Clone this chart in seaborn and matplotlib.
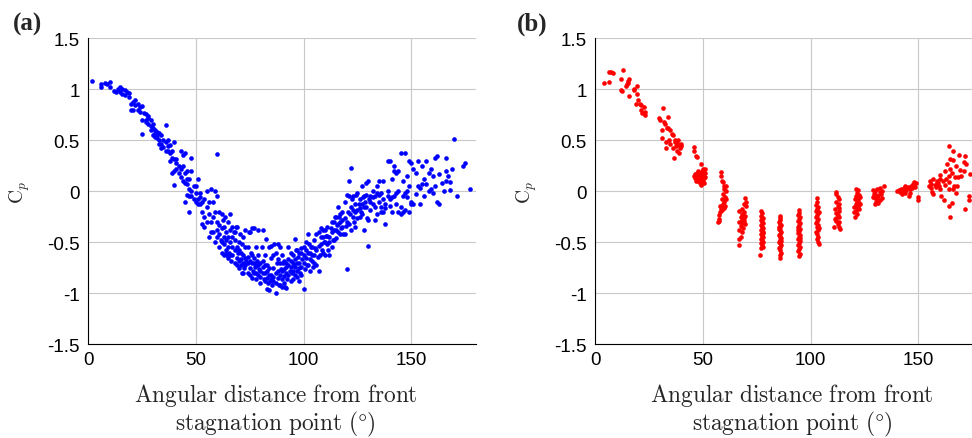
import numpy as np
import pandas as pd
import matplotlib
matplotlib.use("Agg")
import matplotlib.pyplot as plt
import seaborn as sns

# ---------------- data: panel (a) (angle in degrees, Cp) ----------------
a_0_25 = [(2,1.08),(6,1.05),(6,1.02),(8,1.06),(9,1.05),(10,1.07),(10,1.02),(12,0.98),(13,0.97),(14,1.0),
          (15,1.02),(15,0.97),(16,1.0),(16,0.95),(17,0.94),(17,0.99),(18,0.97),(19,0.92),(19,0.96),(20,0.86),
          (20,0.8),(21,0.8),(21,0.88),(22,0.9),(22,0.85),(23,0.8),(23,0.86),(24,0.83),(24,0.78),(25,0.84),
          (25,0.7),(25,0.56)]
a_26_40 = [(26,0.77),(27,0.76),(27,0.7),(27,0.68),(28,0.72),(28,0.66),(28,0.74),(29,0.7),(29,0.64),(29,0.6),
           (30,0.62),(30,0.55),(30,0.66),(31,0.6),(31,0.53),(31,0.57),(32,0.58),(32,0.52),(32,0.55),(33,0.57),
           (33,0.5),(33,0.46),(34,0.55),(34,0.46),(34,0.42),(35,0.43),(35,0.5),(36,0.48),(36,0.4),(36,0.65),
           (37,0.44),(37,0.4),(37,0.5),(38,0.38),(38,0.3),(38,0.45),(39,0.33),(39,0.18),(39,0.4),(40,0.2),
           (40,0.06),(40,0.48),(40,0.32)]
a_41_50 = [(41,0.32),(41,0.22),(41,0.28),(42,0.25),(42,0.18),(43,0.4),(43,0.14),(43,0.22),(44,0.36),(44,0.25),
           (44,0.1),(45,0.38),(45,0.18),(45,-0.1),(45,0.08),(46,0.07),(46,0.2),(46,-0.04),(46,0.12),(47,0.02),
           (47,0.12),(47,-0.2),(47,-0.05),(48,0.33),(48,0.2),(48,-0.05),(48,0.0),(49,0.05),(49,-0.08),(50,-0.02),
           (50,-0.1),(50,0.05)]
a_51_60 = [(51,0.12),(51,-0.08),(51,-0.12),(52,-0.12),(52,-0.02),(52,-0.06),(53,-0.2),(53,-0.32),(53,-0.1),
           (54,-0.25),(54,-0.08),(54,-0.35),(55,0.0),(55,-0.15),(55,-0.3),(56,-0.1),(56,-0.45),(56,-0.22),
           (57,-0.3),(57,0.02),(57,-0.4),(58,-0.4),(58,-0.1),(58,-0.25),(59,0.0),(59,-0.2),(59,-0.5),(60,-0.05),
           (60,-0.3),(60,-0.45),(60,0.37),(60,-0.38)]
a_61_70 = [(61,-0.55),(61,-0.42),(61,-0.2),(61,-0.33),(61.5,-0.48),(62,-0.22),(62,-0.5),(62,-0.36),(62,-0.6),
           (62.5,-0.28),(63,-0.62),(63,-0.35),(63,-0.45),(63,-0.52),(63.5,-0.25),(64,-0.6),(64,-0.48),(64,-0.4),
           (64,-0.58),(64.5,-0.62),(65,-0.65),(65,-0.55),(65,-0.3),(65,-0.45),(65.5,-0.6),(66,-0.38),(66,-0.22),
           (66,-0.62),(66,-0.5),(66.5,-0.68),(67,-0.62),(67,-0.45),(67,-0.35),(67,-0.55),(67.5,-0.4),(68,-0.4),
           (68,-0.7),(68,-0.58),(68,-0.48),(68.5,-0.35),(69,-0.55),(69,-0.35),(69,-0.65),(69,-0.72),(69.5,-0.6),
           (70,-0.68),(70,-0.5),(70,-0.58),(70,-0.75),(70.5,-0.42)]
a_71_80 = [(71,-0.72),(71,-0.6),(71,-0.66),(71.5,-0.8),(71.5,-0.52),(72,-0.45),(72,-0.8),(72,-0.7),(72,-0.62),
           (72.5,-0.75),(73,-0.38),(73,-0.65),(73,-0.72),(73,-0.55),(73.5,-0.68),(74,-0.7),(74,-0.55),(74,-0.8),
           (74,-0.64),(74.5,-0.4),(75,-0.75),(75,-0.4),(75,-0.68),(75,-0.82),(75.5,-0.6),(76,-0.62),(76,-0.85),
           (76,-0.7),(76,-0.36),(76.5,-0.78),(77,-0.7),(77,-0.36),(77,-0.8),(77,-0.65),(77.5,-0.74),(78,-0.8),
           (78,-0.55),(78,-0.72),(78,-0.86),(78.5,-0.68),(79,-0.72),(79,-0.62),(79,-0.38),(79,-0.82),(79.5,-0.76),
           (80,-0.78),(80,-0.9),(80,-0.7),(80,-0.84),(80.5,-0.55)]
a_81_90 = [(81,-0.38),(81,-0.68),(81,-0.8),(81,-0.74),(81.5,-0.86),(82,-0.8),(82,-0.62),(82,-0.88),(82,-0.72),
           (82.5,-0.47),(83,-0.85),(83,-0.72),(83,-0.96),(83,-0.78),(83.5,-0.9),(84,-0.97),(84,-0.55),(84,-0.82),
           (84,-0.75),(84.5,-0.88),(85,-0.82),(85,-0.65),(85,-0.86),(85,-0.54),(85.5,-0.92),(86,-0.88),(86,-0.75),
           (86,-0.62),(86,-0.84),(86.5,-0.52),(87,-1.0),(87,-0.6),(87,-0.8),(87,-0.9),(87.5,-0.7),(88,-0.85),
           (88,-0.52),(88,-0.78),(88,-0.66),(88.5,-0.92),(89,-0.7),(89,-0.92),(89,-0.82),(89,-0.55),(89.5,-0.76),
           (90,-0.78),(90,-0.62),(90,-0.86),(90,-0.94),(90.5,-0.7)]
a_91_100 = [(91,-0.9),(91,-0.68),(91,-0.76),(91,-0.83),(91.5,-0.94),(92,-0.95),(92,-0.8),(92,-0.7),(92,-0.74),
            (92.5,-0.86),(93,-0.72),(93,-0.55),(93,-0.82),(93,-0.66),(93.5,-0.78),(94,-0.88),(94,-0.68),(94,-0.6),
            (94,-0.74),(94.5,-0.8),(95,-0.78),(95,-0.62),(95,-0.7),(95,-0.86),(95.5,-0.72),(96,-0.47),(96,-0.82),
            (96,-0.74),(96,-0.66),(96.5,-0.58),(97,-0.7),(97,-0.58),(97,-0.78),(97,-0.84),(97.5,-0.64),(98,-0.88),
            (98,-0.75),(98,-0.6),(98,-0.7),(98.5,-0.8),(99,-0.6),(99,-0.82),(99,-0.56),(99,-0.74),(99.5,-0.66),
            (100,-0.96),(100,-0.55),(100,-0.7),(100,-0.62),(100.5,-0.76)]
a_101_110 = [(101,-0.65),(101,-0.5),(101,-0.58),(101.5,-0.72),(102,-0.72),(102,-0.42),(102,-0.6),(102.5,-0.52),
             (103,-0.6),(103,-0.78),(103,-0.66),(103.5,-0.55),(104,-0.55),(104,-0.68),(104,-0.62),(104.5,-0.74),
             (105,-0.62),(105,-0.48),(105,-0.7),(105.5,-0.56),(106,-0.58),(106,-0.72),(106,-0.42),(106.5,-0.64),
             (107,-0.4),(107,-0.78),(107,-0.54),(107.5,-0.62),(108,-0.52),(108,-0.36),(108,-0.45),(108.5,-0.58),
             (109,-0.45),(109,-0.6),(109,-0.38),(109.5,-0.5),(110,-0.38),(110,-0.5),(110,-0.62),(110.5,-0.44)]
a_111_120 = [(111,-0.52),(111,-0.35),(111,-0.44),(111.5,-0.58),(112,-0.62),(112,-0.45),(112,-0.5),(112.5,-0.36),
             (113,-0.4),(113,-0.55),(113,-0.3),(113.5,-0.48),(114,-0.3),(114,-0.48),(114,-0.38),(114.5,-0.25),
             (115,-0.25),(115,-0.38),(115,-0.46),(115.5,-0.33),(116,-0.15),(116,-0.32),(116,-0.4),(116.5,-0.25),
             (117,-0.42),(117,-0.22),(117,-0.3),(117.5,-0.36),(118,-0.35),(118,-0.2),(118,-0.28),(118.5,-0.42),
             (119,-0.42),(119,-0.1),(119,-0.26),(119.5,-0.34),(120,-0.76),(120,-0.3),(120,-0.04),(120.5,-0.2)]
a_121_130 = [(121,-0.05),(121,0.1),(121,-0.32),(121.5,-0.22),(122,0.23),(122,-0.15),(122,-0.38),(122.5,-0.08),
             (123,-0.25),(123,-0.05),(123,-0.18),(123.5,-0.3),(124,-0.35),(124,-0.12),(124,-0.2),(124.5,-0.04),
             (125,-0.18),(125,-0.02),(125,-0.26),(125.5,-0.12),(126,-0.25),(126,-0.08),(126,-0.16),(126.5,-0.2),
             (127,-0.12),(127,0.05),(127,-0.22),(127.5,-0.06),(128,-0.38),(128,-0.05),(128,-0.15),(128.5,-0.1),
             (129,0.08),(129,-0.15),(129,-0.04),(129.5,-0.26),(130,0.1),(130,-0.28),(130,-0.54),(130.5,-0.08)]
a_131_140 = [(131,-0.05),(131,-0.18),(131,-0.1),(132,0.0),(132,-0.12),(132,-0.06),(133,-0.28),(133,-0.05),
             (133,-0.15),(134,0.05),(134,-0.22),(134,-0.02),(135,-0.1),(135,0.1),(135,-0.04),(136,-0.15),
             (136,-0.02),(136,-0.2),(137,0.1),(137,-0.2),(137,-0.08),(138,-0.32),(138,-0.12),(138,-0.16),
             (139,0.3),(139,0.0),(139,-0.05),(140,-0.08),(140,0.3),(140,-0.14)]
a_141_150 = [(141,-0.2),(141,0.12),(141,-0.06),(142,0.25),(142,-0.05),(142,0.2),(143,-0.12),(143,0.18),
             (143,-0.02),(144,0.2),(144,-0.2),(144,0.0),(145,0.38),(145,-0.22),(145,-0.15),(146,-0.05),(146,0.1),
             (146,-0.2),(147,0.38),(147,-0.18),(147,-0.02),(148,0.0),(148,0.15),(148,-0.06),(149,-0.2),(149,0.3),
             (149,0.05),(150,0.28),(150,-0.1),(150,-0.12)]
a_151_177 = [(151,0.22),(151,-0.12),(152,0.18),(152,-0.03),(153,0.3),(153,0.05),(154,-0.12),(154,0.03),(155,0.25),
             (155,0.07),(156,-0.05),(156,0.12),(157,0.07),(157,0.3),(158,0.18),(158,0.0),(159,0.22),(159,0.02),
             (160,0.15),(160,-0.02),(161,0.33),(161,0.05),(162,-0.1),(162,0.35),(163,0.17),(163,-0.12),(164,0.08),
             (165,0.0),(166,0.2),(166,0.1),(166,0.33),(167,0.15),(168,0.09),(168,0.01),(169,0.22),(170,0.51),
             (171,-0.05),(174,0.25),(175,0.28),(177,0.02)]

# ---------------- data: panel (b) ----------------
b_0_25 = [(4,1.06),(6.5,1.07),(6.5,1.17),(7.5,1.17),(8.5,1.16),(12,1.1),(12,0.99),(13,1.19),(12.5,0.98),(14.5,1.03),
          (15,1.05),(15.5,1.08),(16,1.1),(15.5,1.06),(16,0.93),(18,1.0),(18,0.99),(19.5,0.95),(19.5,1.03),(20,0.9),
          (19,0.86),(21,0.86),(21.5,0.85),(21.5,0.8),(22,0.77),(22.5,0.83),(23,0.78),(23,0.75)]
b_29_40 = [(29.5,0.72),(30,0.7),(31,0.6),(31,0.52),(31.5,0.82),(32,0.68),(32.5,0.66),(33,0.48),(33,0.42),
           (33.5,0.62),(34,0.73),(34,0.62),(34.5,0.5),(35,0.6),(35,0.46),(35.5,0.56),(36,0.55),(36,0.42),
           (36.5,0.33),(37,0.48),(37,0.5),(37.5,0.44),(38,0.4),(38,0.47),(38.5,0.5),(39,0.38),(39,0.45),
           (39.5,0.42),(40,0.46),(40,0.44)]
b_46_51 = [(46,0.43),(46,0.4),(47,0.35),(47.5,0.34),(49,0.27),(46,0.15),(46.5,0.13),(46.5,0.17),(47,0.1),
           (47,0.15),(47.5,0.12),(47.5,0.18),(48,0.2),(48,0.1),(48,0.16),(48,0.14),(48.5,0.08),(48.5,0.12),
           (49,0.18),(49,0.12),(49,0.06),(49,0.15),(49.5,0.2),(49.5,0.1),(50,0.15),(50,0.22),(50,0.1),(50,0.17),
           (50.5,0.13),(50.5,0.08),(51,0.18),(51,0.14),(51,0.22)]
b_57_61 = [(58.5,0.19),(58.5,0.15),(59,0.1),(59.5,0.09),(60,0.05),(61,0.05),(61,0.0),(60,0.02),(59.5,-0.03),
           (60.5,-0.06),(61,-0.08),(60,-0.1),(59.5,-0.12),(60.5,-0.14),(59,-0.15),(58.5,-0.17),(59,-0.18),
           (58,-0.2),(57.5,-0.23),(57.5,-0.27),(57,-0.3),(57.5,-0.29),(60,-0.16),(59,-0.08),(58,-0.14)]
b_67_70 = [(69.5,-0.07),(70,-0.1),(69,-0.12),(70,-0.14),(68,-0.17),(67,-0.19),(69,-0.2),(68,-0.22),(69.5,-0.24),
           (67.5,-0.25),(68.5,-0.27),(69,-0.29),(67,-0.3),(68,-0.31),(69.5,-0.32),(67.5,-0.34),(68.5,-0.36),
           (67,-0.38),(68,-0.4),(67.5,-0.45),(67,-0.47),(67,-0.53),(69,-0.26),(68,-0.28)]
b_77 = [(77,-0.19),(77.5,-0.21),(77,-0.24),(78,-0.26),(77,-0.28),(77.5,-0.3),(78,-0.31),(77,-0.33),(77.5,-0.35),
        (78,-0.36),(77,-0.38),(77.5,-0.39),(78,-0.41),(77,-0.42),(77.5,-0.44),(78,-0.45),(77,-0.47),(77.5,-0.48),
        (78,-0.5),(77,-0.51),(77.5,-0.53),(78,-0.55),(77,-0.56),(76.5,-0.62),(77.5,-0.27),(78,-0.4)]
b_86 = [(86,-0.24),(86,-0.26),(86,-0.28),(85.5,-0.3),(86,-0.32),(86.5,-0.33),(86,-0.35),(85.5,-0.37),(86,-0.38),
        (86.5,-0.4),(86,-0.42),(85.5,-0.43),(86,-0.45),(86.5,-0.46),(86,-0.48),(85.5,-0.5),(86,-0.51),(86.5,-0.53),
        (86,-0.55),(85.5,-0.56),(86,-0.58),(86.5,-0.6),(86,-0.62),(86,-0.65),(85.5,-0.35),(86.5,-0.49)]
b_94 = [(94.5,-0.18),(94.5,-0.21),(94,-0.23),(95,-0.25),(94.5,-0.27),(94,-0.29),(95,-0.31),(94.5,-0.33),(94,-0.35),
        (95,-0.37),(94.5,-0.39),(94,-0.41),(95,-0.43),(94.5,-0.45),(94,-0.47),(95,-0.49),(94.5,-0.51),(94,-0.53),
        (95,-0.55),(94.5,-0.57),(94,-0.59),(95,-0.61),(94.5,-0.63),(94,-0.38),(95,-0.46)]
b_103 = [(103,-0.07),(103,-0.1),(102.5,-0.13),(103.5,-0.15),(103,-0.17),(102.5,-0.19),(103.5,-0.21),(103,-0.23),
         (102.5,-0.25),(103.5,-0.27),(103,-0.29),(102.5,-0.31),(103.5,-0.33),(103,-0.35),(103.5,-0.38),(102.5,-0.4),
         (103,-0.42),(103.5,-0.45),(103,-0.47),(103.5,-0.5),(104,-0.52),(104,-0.2),(104,-0.36)]
b_112 = [(112,-0.01),(112,-0.03),(112.5,-0.06),(113,-0.08),(112,-0.1),(113,-0.12),(112.5,-0.14),(111.5,-0.17),
         (113,-0.19),(112,-0.21),(112.5,-0.23),(113,-0.25),(111.5,-0.27),(112,-0.29),(113,-0.3),(112.5,-0.32),
         (111,-0.35),(113,-0.35),(113.5,-0.37),(112,-0.26),(113,-0.16)]
b_121 = [(121,0.02),(122,0.01),(121.5,-0.02),(122.5,-0.04),(121,-0.05),(122,-0.07),(120.5,-0.08),(121.5,-0.1),
         (122.5,-0.11),(121,-0.12),(122,-0.14),(120,-0.15),(121.5,-0.16),(122.5,-0.17),(121,-0.19),(120,-0.2),
         (121.5,-0.22),(120.5,-0.25),(123,-0.06),(123,-0.12),(122,-0.09)]
b_131 = [(129,0.01),(130,0.0),(131,0.02),(132,-0.01),(129.5,-0.03),(130.5,-0.04),(131.5,-0.05),(132.5,-0.03),
         (130,-0.07),(131,-0.08),(132,-0.09),(129,-0.06),(130.5,-0.1),(131.5,-0.11),(133,-0.07),(134,0.05),
         (133,0.0),(132,0.03),(130,-0.12)]
b_140_150 = [(140,0.0),(141,0.01),(141.5,-0.01),(142,0.02),(142.5,-0.03),(143,0.0),(143.5,0.03),(144,-0.02),
             (144.5,0.01),(145,0.04),(145.5,-0.05),(146,0.02),(146.5,0.05),(147,0.03),(147.5,0.07),(148,0.06),
             (148,0.09),(148.5,0.04),(149,0.08),(144,0.05),(146,-0.02),(150,-0.06),(150,-0.09)]
b_155_162 = [(155,0.05),(155.5,0.1),(156,0.07),(156,0.03),(156.5,-0.01),(157,0.12),(157,-0.03),(157.5,0.06),
             (158,0.04),(158.5,0.1),(159,0.08),(159.5,0.05),(160,0.12),(160,0.02),(160.5,-0.05)]
b_160_175 = [(164.4,0.44),(166.3,0.40),(168.9,0.36),(171.6,0.35),(164.9,0.32),(166,0.31),(163.5,0.27),(167.5,0.25),
             (171.4,0.29),(172.1,0.27),(162.3,0.2),(164.9,0.22),(169.3,0.21),(171.2,0.2),(173.9,0.17),(160,0.16),
             (164,0.15),(167,0.14),(168.5,0.14),(161.6,0.1),(164,0.09),(158.5,0.08),(167.8,0.05),(164,0.02),
             (166,0.02),(167.3,-0.02),(173.6,-0.05),(161.9,-0.09),(165.4,-0.11),(164.4,-0.14),(171.8,-0.17),
             (173.6,-0.09),(164.9,-0.25),(163,0.12),(165.5,0.18),(162.5,0.06),(166.5,0.05),(170,0.15)]

x_ticks = [0, 50, 100, 150]
y_ticks = [-1.5, -1, -0.5, 0, 0.5, 1, 1.5]
y_tick_labels = ['-1.5', '-1', '-0.5', '0', '0.5', '1', '1.5']
x_label_text = (r"$\mathrm{Angular\ distance\ from\ front}$" + "\n"
                + r"$\mathrm{stagnation\ point\ (\degree)}$")
y_label_text = r"$\mathrm{C}_p$"


def frame(segments):
    pts = [p for seg in segments for p in seg]
    return pd.DataFrame(pts, columns=["angle", "cp"])


df_a = frame([a_0_25, a_26_40, a_41_50, a_51_60, a_61_70, a_71_80, a_81_90, a_91_100,
              a_101_110, a_111_120, a_121_130, a_131_140, a_141_150, a_151_177])
df_b = frame([b_0_25, b_29_40, b_46_51, b_57_61, b_67_70, b_77, b_86, b_94, b_103, b_112,
              b_121, b_131, b_140_150, b_155_162, b_160_175])

sns.set_style("white")
plt.rcParams['font.family'] = ['Liberation Sans', 'DejaVu Sans']
plt.rcParams['mathtext.fontset'] = 'cm'

W, H = 972, 439
fig = plt.figure(figsize=(W / 100, H / 100), dpi=100)
ax_a = fig.add_axes([88 / W, (H - 345.3) / H, 388 / W, 306 / H])
ax_b = fig.add_axes([595 / W, (H - 345.3) / H, 388 / W, 306 / H])

for ax, df, col, lx in [(ax_a, df_a, (0, 0, 1), 0.483), (ax_b, df_b, (1, 0, 0), 0.507)]:
    sns.scatterplot(data=df, x="angle", y="cp", ax=ax, color=col, s=11, linewidth=0,
                    legend=False, zorder=3)
    ax.set_xlim(0, 180)
    ax.set_ylim(-1.5, 1.5)
    ax.set_xticks(x_ticks)
    ax.set_xticklabels([str(t) for t in x_ticks])
    ax.set_yticks(y_ticks)
    ax.set_yticklabels(y_tick_labels)
    ax.grid(True, color='#c8c8c8', linewidth=0.8)
    ax.set_axisbelow(True)
    for s in ['top', 'right']:
        ax.spines[s].set_visible(False)
    for s in ['left', 'bottom']:
        ax.spines[s].set_color('black')
        ax.spines[s].set_linewidth(0.8)
    ax.tick_params(direction='in', length=3, width=0.8, labelsize=13.5, colors='black')
    ax.tick_params(axis='y', pad=5.8)
    ax.tick_params(axis='x', pad=5.0)
    ax.set_xlabel(x_label_text, fontsize=16.8, linespacing=1.02)
    ax.xaxis.set_label_coords(lx, -0.12)
    ax.set_ylabel(y_label_text, fontsize=14)
    ax.yaxis.set_label_coords(-0.145, 0.5)

fig.text(13 / W, 1 - 24 / H, "(a)", fontfamily='Liberation Serif', fontweight='bold',
         fontsize=18, va='center', ha='left')
fig.text(517 / W, 1 - 24 / H, "(b)", fontfamily='Liberation Serif', fontweight='bold',
         fontsize=18, va='center', ha='left')

fig.savefig("out.png", dpi=100)
